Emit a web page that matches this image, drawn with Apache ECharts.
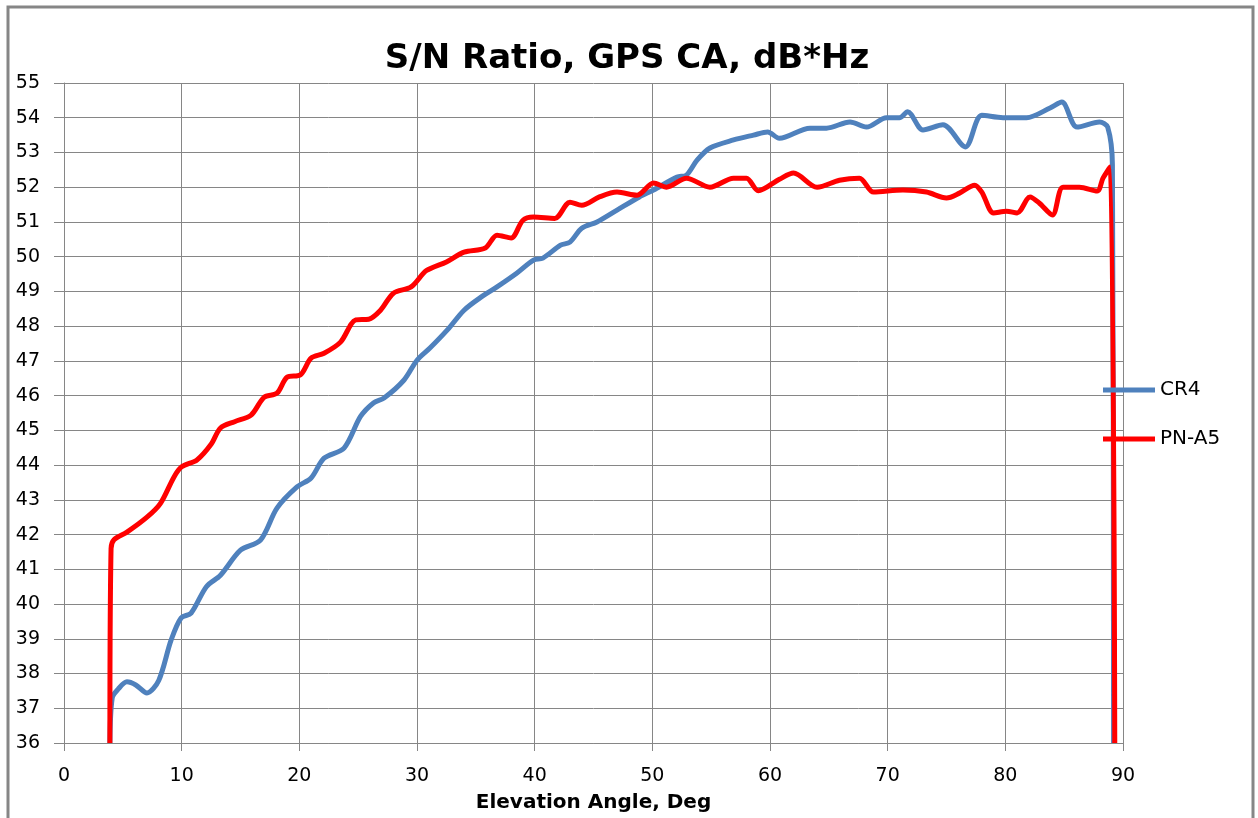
<!DOCTYPE html>
<html>
<head>
<meta charset="utf-8">
<script src="https://cdn.jsdelivr.net/npm/echarts@6/dist/echarts.min.js"></script>
<style>
  html, body { margin: 0; padding: 0; background: #fff; }
  #chart { width: 1258px; height: 818px; }
</style>
</head>
<body>
<div id="chart"></div>
<script>
// elevation angle (deg) / S/N (dB*Hz)
var cr4X = [3.9, 4.1, 4.6, 5.35, 6.1, 7.05, 8.05, 9.1, 9.95, 10.8, 12.1, 13.3, 15.0, 16.7, 18.1,
  19.8, 21.0, 22.1, 23.8, 25.2, 26.3, 27.2, 28.9, 30.0, 31.1, 32.6, 34.0, 35.5, 36.8, 38.5,
  39.9, 40.7, 42.2, 43.0, 44.0, 45.3, 47.0, 48.9, 50.1, 52.1, 52.9, 53.8, 54.9, 56.9, 58.6,
  59.8, 60.8, 63.4, 64.8, 66.8, 68.2, 69.9, 71.0, 71.7, 73.0, 74.7, 76.6, 78.0, 79.8, 81.8,
  83.8, 84.8, 86.1, 88.0, 88.7, 89.1, 89.2]
var cr4Y = [36.0, 37.3, 37.55, 37.76, 37.67, 37.44, 37.8, 38.96, 39.6, 39.74, 40.5, 40.83, 41.55, 41.84, 42.76,
  43.37, 43.63, 44.2, 44.49, 45.4, 45.79, 45.93, 46.45, 47.02, 47.37, 47.9, 48.46, 48.85, 49.13, 49.53,
  49.9, 49.96, 50.33, 50.42, 50.82, 51.0, 51.34, 51.72, 51.92, 52.29, 52.35, 52.78, 53.13, 53.36, 53.5,
  53.59, 53.41, 53.7, 53.7, 53.88, 53.73, 54.0, 54.0, 54.17, 53.65, 53.8, 53.16, 54.07, 54.0, 54.0,
  54.28, 54.45, 53.73, 53.88, 53.73, 52.64, 36.0]

var pnX = [3.9, 4.0, 4.25, 5.35, 7.05, 8.2, 9.35, 10.0, 11.3, 12.5, 13.3, 14.5, 15.9, 17.0, 18.1,
  18.95, 20.1, 21.0, 22.1, 23.5, 24.8, 25.9, 26.9, 28.0, 29.5, 30.8, 32.5, 34.0, 35.8, 36.8,
  38.0, 39.0, 39.9, 41.7, 43.0, 44.0, 45.5, 47.0, 48.7, 50.1, 51.2, 52.9, 54.9, 56.9, 58.0,
  59.0, 60.8, 62.0, 64.0, 65.9, 67.6, 68.8, 71.3, 73.3, 75.0, 76.1, 77.4, 78.0, 79.0, 80.1,
  81.0, 82.1, 82.9, 84.0, 84.9, 86.3, 87.8, 88.3, 88.9, 89.3]
var pnY = [36.0, 41.6, 41.85, 42.07, 42.5, 42.9, 43.66, 43.95, 44.15, 44.6, 45.07, 45.25, 45.44, 45.95, 46.07,
  46.53, 46.6, 47.08, 47.22, 47.54, 48.18, 48.2, 48.46, 48.95, 49.13, 49.6, 49.85, 50.13, 50.25, 50.62,
  50.54, 51.05, 51.14, 51.1, 51.57, 51.48, 51.72, 51.86, 51.77, 52.12, 52.0, 52.26, 52.0, 52.26, 52.26,
  51.9, 52.23, 52.41, 52.0, 52.2, 52.26, 51.86, 51.92, 51.86, 51.69, 51.83, 52.06, 51.86, 51.26, 51.31,
  51.26, 51.72, 51.54, 51.2, 52.0, 52.0, 51.89, 52.26, 52.58, 36.0]

var seriesNames = ['CR4', 'PN-A5']
var seriesColors = ['#4F81BD', '#FF0000']

function pairs (xs, ys) {
  return xs.map(function (x, i) { return [x, ys[i]] })
}

var font = 'DejaVu Sans'
var gridColor = '#868686'

var myChart = echarts.init(document.getElementById('chart'))
var option = {
  backgroundColor: '#fff',
  animation: false,
  title: {
    text: 'S/N Ratio, GPS CA, dB*Hz',
    left: 622,
    top: 37,
    textAlign: 'center',
    textStyle: { fontFamily: font, fontSize: 34, fontWeight: 'bold', color: '#000' }
  },
  graphic: [{
    type: 'rect',
    shape: { x: 8, y: 7, width: 1245, height: 900 },
    style: { fill: 'none', stroke: gridColor, lineWidth: 3 },
    silent: true
  }],
  legend: {
    orient: 'vertical',
    left: 1103,
    top: 378,
    padding: 0,
    itemWidth: 52,
    itemHeight: 5,
    itemGap: 25,
    icon: 'rect',
    data: seriesNames,
    textStyle: { fontFamily: font, fontSize: 20, lineHeight: 24, color: '#000' }
  },
  grid: {
    left: 64,
    right: 135,
    top: 83,
    bottom: 75
  },
  xAxis: {
    type: 'value',
    min: 0,
    max: 90,
    interval: 10,
    name: 'Elevation Angle, Deg',
    nameLocation: 'middle',
    nameGap: 50,
    nameTextStyle: { fontFamily: font, fontSize: 20, fontWeight: 'bold', color: '#000' },
    axisLine: { lineStyle: { color: gridColor, width: 1 } },
    axisTick: { length: 8, lineStyle: { color: gridColor } },
    axisLabel: { margin: 24, fontFamily: font, fontSize: 19, color: '#000' },
    splitLine: { show: true, lineStyle: { color: gridColor, width: 1 } }
  },
  yAxis: {
    type: 'value',
    min: 36,
    max: 55,
    interval: 1,
    axisLine: { show: true, lineStyle: { color: gridColor, width: 1 } },
    axisTick: { show: true, length: 10, lineStyle: { color: gridColor } },
    axisLabel: { margin: 24, fontFamily: font, fontSize: 19, color: '#000' },
    splitLine: { show: true, lineStyle: { color: gridColor, width: 1 } }
  },
  series: [
    {
      name: seriesNames[0],
      type: 'line',
      data: pairs(cr4X, cr4Y),
      showSymbol: false,
      symbol: 'none',
      smooth: 0.3,
      lineStyle: { width: 5, color: seriesColors[0] },
      itemStyle: { color: seriesColors[0] }
    },
    {
      name: seriesNames[1],
      type: 'line',
      data: pairs(pnX, pnY),
      showSymbol: false,
      symbol: 'none',
      smooth: 0.3,
      lineStyle: { width: 5, color: seriesColors[1] },
      itemStyle: { color: seriesColors[1] }
    }
  ]
}
myChart.setOption(option)
</script>
</body>
</html>
